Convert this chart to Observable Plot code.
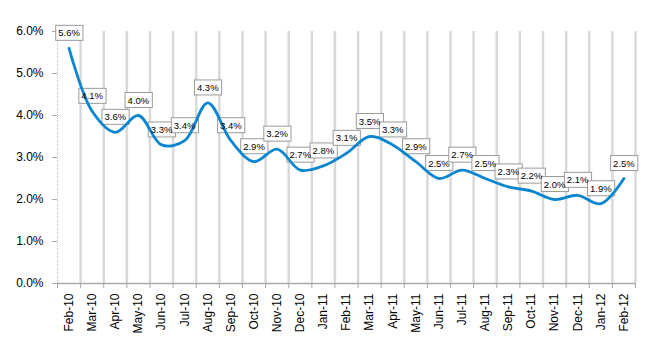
<!DOCTYPE html>
<html><head><meta charset="utf-8">
<script src="https://cdn.jsdelivr.net/npm/d3@7"></script>
<script src="https://cdn.jsdelivr.net/npm/@observablehq/plot@0.6"></script>
<style>body{margin:0;background:#fff}</style>
</head><body><div id="chart"></div>
<script>
const months = ["Feb-10","Mar-10","Apr-10","May-10","Jun-10","Jul-10","Aug-10","Sep-10","Oct-10","Nov-10","Dec-10","Jan-11","Feb-11","Mar-11","Apr-11","May-11","Jun-11","Jul-11","Aug-11","Sep-11","Oct-11","Nov-11","Dec-11","Jan-12","Feb-12"];
const rates = [5.6,4.1,3.6,4.0,3.3,3.4,4.3,3.4,2.9,3.2,2.7,2.8,3.1,3.5,3.3,2.9,2.5,2.7,2.5,2.3,2.2,2.0,2.1,1.9,2.5];
const yTicks = [0,1,2,3,4,5,6];

const data = months.map((m, i) => ({m, i: i + 0.5, v: rates[i]}));
const bounds = d3.range(months.length + 1);
const fmt = d => d.toFixed(1) + "%";

const chart = Plot.plot({
  width: 650, height: 350,
  marginLeft: 57, marginRight: 15, marginTop: 31, marginBottom: 67,
  style: {fontFamily: "'Liberation Sans', Arial, sans-serif", fontSize: "12px", color: "#000", background: "#fff"},
  x: {type: "linear", domain: [0, months.length], axis: null, label: null},
  y: {domain: [0, 6], axis: null, label: null},
  marks: [
    Plot.ruleX(bounds.slice(1), {y1: 0, y2: 6, stroke: "#d9d9d9", strokeWidth: 2.5}),
    Plot.ruleX([0], {y1: 0, y2: 6, stroke: "#bdbdbd", strokeDasharray: "1,1"}),
    Plot.ruleY([0], {stroke: "#aaaaaa", strokeWidth: 1.5}),
    Plot.axisY(yTicks, {tickSize: 0, tickPadding: 14, tickFormat: fmt, fontSize: 12, label: null}),
    Plot.axisY(yTicks, {tickSize: 5, tickFormat: () => "", stroke: "#aaaaaa", label: null}),
    Plot.axisX(bounds, {tickSize: 5, tickFormat: () => "", stroke: "#aaaaaa", label: null}),
    Plot.axisX(data.map(d => d.i), {tickSize: 0, tickPadding: 10, tickRotate: -90, tickFormat: d => months[d - 0.5], fontSize: 12, label: null}),
    Plot.line(data, {x: "i", y: "v", curve: "catmull-rom", stroke: "#0a86d0", strokeWidth: 2.8}),
    Plot.text(data, {x: "i", y: "v", text: d => fmt(d.v), dy: -15, fontSize: 9.5, fill: "#000"})
  ]
});
document.getElementById("chart").append(chart);

// draw white boxes behind data labels, beneath the line
const svgns = "http://www.w3.org/2000/svg";
const textG = chart.querySelector('g[aria-label="text"]');
const lineG = chart.querySelector('g[aria-label="line"]');
const boxG = document.createElementNS(svgns, "g");
if (textG.getAttribute("transform")) boxG.setAttribute("transform", textG.getAttribute("transform"));
lineG.parentNode.insertBefore(boxG, lineG);
textG.querySelectorAll("text").forEach(function (el) {
  const bb = el.getBBox();
  const cy = bb.y + bb.height / 2;
  const r = document.createElementNS(svgns, "rect");
  r.setAttribute("x", bb.x - 2.5);
  r.setAttribute("y", cy - 7.5);
  r.setAttribute("width", bb.width + 5);
  r.setAttribute("height", 15);
  r.setAttribute("fill", "#fff");
  r.setAttribute("stroke", "#9a9a9a");
  r.setAttribute("stroke-width", 1);
  const t = el.getAttribute("transform");
  if (t) r.setAttribute("transform", t);
  boxG.appendChild(r);
});
</script>
</body></html>
